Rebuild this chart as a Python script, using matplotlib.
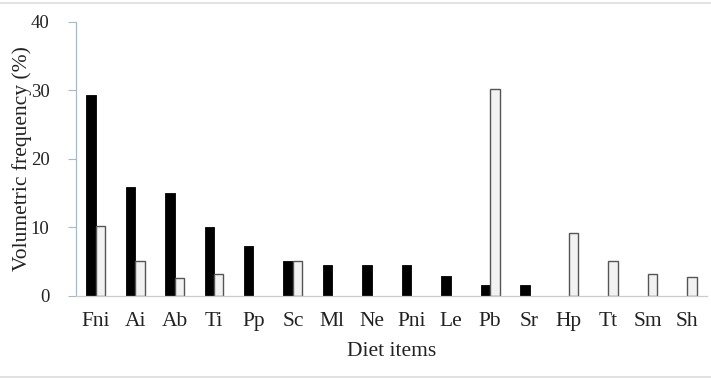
import matplotlib.pyplot as plt
import numpy as np

items = ['Fni', 'Ai', 'Ab', 'Ti', 'Pp', 'Sc', 'Ml', 'Ne', 'Pni', 'Le',
         'Pb', 'Sr', 'Hp', 'Tt', 'Sm', 'Sh']
black_vals = [29.3, 15.8, 15.0, 10.0, 7.2, 5.0, 4.4, 4.4, 4.4, 2.8,
              1.5, 1.5, 0, 0, 0, 0]
white_vals = [10.1, 5.0, 2.6, 3.1, 0, 5.0, 0, 0, 0, 0,
              30.2, 0, 9.1, 5.1, 3.1, 2.7]

plt.rcParams['font.family'] = ['Liberation Serif', 'DejaVu Serif']

fig = plt.figure(figsize=(7.11, 3.79), dpi=100)
ax = fig.add_axes([76/711, 1-295.5/379, (707-76)/711, (295.5-22)/379])

x = np.arange(len(items))
w = 0.24
ax.bar(x - w/2, black_vals, w, color='black', edgecolor='black', linewidth=0.6)
wv = np.array(white_vals)
keep = wv > 0
ax.bar(x[keep] + w/2, wv[keep], w, color='#f2f2f2', edgecolor='#555555', linewidth=1.0)

ax.set_xlim(-0.5, len(items) - 0.5)
ax.set_ylim(0, 40)
ax.set_yticks([0, 10, 20, 30, 40])
ax.set_xticks(x)
ax.set_xticklabels(items)
ax.tick_params(axis='x', length=0, pad=12, labelsize=15.5, colors='#222222')
ax.tick_params(axis='y', length=6, width=0.8, color='#a9b8c6', pad=13,
               labelsize=13.5, labelcolor='#222222')

for s in ['top', 'right']:
    ax.spines[s].set_visible(False)
ax.spines['left'].set_color('#a9b8c6')
ax.spines['bottom'].set_color('#cccccc')
ax.spines['left'].set_linewidth(0.9)
ax.spines['bottom'].set_linewidth(0.9)

ax.set_xlabel('Diet items', fontsize=15.5, color='#222222', labelpad=8)
ax.set_ylabel('Volumetric frequency (%)', fontsize=15.5, color='#222222')
ax.yaxis.set_label_coords(-0.069, 0.5)

# thin frame lines top and bottom
fig.add_artist(plt.Line2D([0, 1], [1 - 3/379, 1 - 3/379], color='#dddddd', lw=1.2))
fig.add_artist(plt.Line2D([0, 1], [2/379, 2/379], color='#dddddd', lw=1.2))

fig.savefig('out.png', dpi=100)
